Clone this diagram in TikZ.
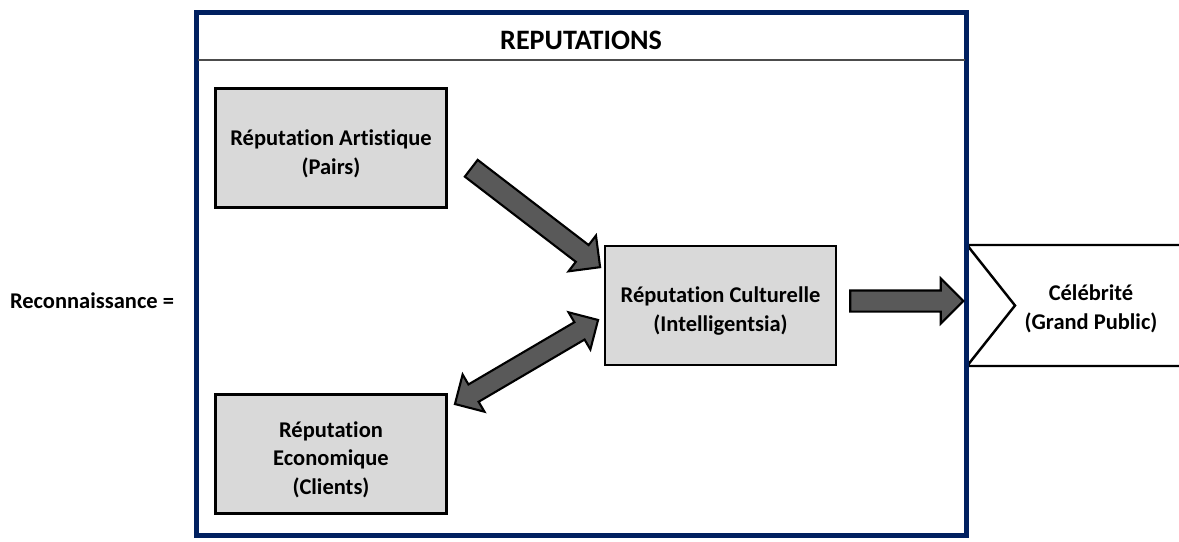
\documentclass[tikz,border=0pt]{standalone}
\usepackage{fontspec}
\setmainfont{Carlito}[Ligatures=NoCommon]
\usetikzlibrary{shapes.arrows}
\definecolor{framenavy}{HTML}{002060}
\definecolor{boxgrey}{HTML}{D9D9D9}
\definecolor{arrowgrey}{HTML}{595959}
\newcommand{\toppad}{\rule{0pt}{15.5pt}}
\begin{document}
\begin{tikzpicture}[
            x=0.02cm, y=-0.02cm,
            every node/.style={font=\fontsize{12.8}{16.4}\selectfont\bfseries, align=center},
            rep node/.style={rectangle, draw=black, line width=1.4pt, fill=boxgrey,
                minimum width=4.62cm, minimum height=2.38cm},
            block arrow/.style={single arrow, draw=black, fill=arrowgrey, line width=1.2pt,
                inner xsep=0pt, inner ysep=0.19cm, single arrow head extend=0.24cm,
                single arrow head indent=0pt, sloped},
            both arrow/.style={double arrow, draw=black, fill=arrowgrey, line width=1.2pt,
                inner xsep=0pt, inner ysep=0.18cm, double arrow head extend=0.23cm,
                double arrow head indent=0pt, sloped}]
    \useasboundingbox (0,0) rectangle (1179,541);
            % Celebrite banner
    \draw[line width=1.4pt, fill=white] (1182,245) -- (967,245) -- (1015,305.5) -- (967,366) -- (1182,366);
    \node (celeb) at (1091,309) {C\'el\'ebrit\'e\\ (Grand Public)};
            % Frame and title
    \draw[framenavy, line width=2.85pt] (196.5,12.5) rectangle (966.5,535.5);
    \draw[black!70, line width=0.6pt] (198,60) -- (965,60);
    \node[font=\fontsize{16}{19}\selectfont\bfseries] (title) at (581,40) {REPUTATIONS};
    \node (recon) at (92,301) {Reconnaissance =};
            % Define reputations
    \node[rep node] (art) at (331,148) {\toppad R\'eputation Artistique\\(Pairs)};
    \node[rep node] (cult) at (720.5,305.5) {\toppad R\'eputation Culturelle\\(Intelligentsia)};
    \node[rep node] (eco) at (331,454) {\toppad R\'eputation\\Economique\\(Clients)};
            % Arrow ends
    \coordinate (a1s) at (467,165);
    \coordinate (a1e) at (596,264);
    \coordinate (a2s) at (455,404);
    \coordinate (a2e) at (598,320);
    \coordinate (a3s) at (845,301);
    \coordinate (a3e) at (958,301);
    \path (a1s) -- node[block arrow, minimum height=3.25cm] (art to cult) {} (a1e);
    \path (a2s) -- node[both arrow, minimum height=3.32cm] (eco cult) {} (a2e);
    \path (a3s) -- node[block arrow, minimum height=2.26cm] (cult to celeb) {} (a3e);
\end{tikzpicture}
\end{document}
